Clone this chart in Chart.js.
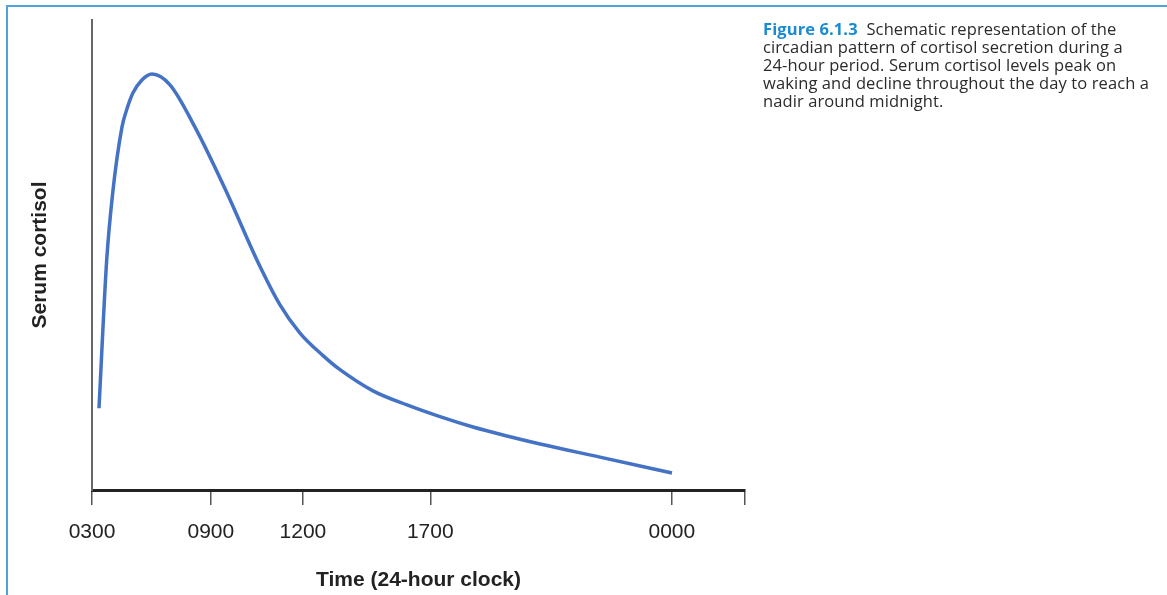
<!DOCTYPE html>
<html>
<head>
<meta charset="utf-8">
<script src="https://cdn.jsdelivr.net/npm/chart.js@4"></script>
<style>
  html, body { margin: 0; padding: 0; background: #fff; }
  #wrap { position: absolute; left: 0; top: 0; width: 1167px; height: 595px; }
  #frame {
    position: absolute; left: 6px; top: 5px; right: 0; bottom: 0;
    border-top: 2px solid #4ea4da; border-left: 2px solid #4ea4da;
  }
  #caption {
    position: absolute; left: 763px; top: 20px;
    font-family: "Open Sans", "Noto Sans", sans-serif;
    font-size: 16.5px; line-height: 18px; color: #2b2b2b;
    letter-spacing: 0.1px;
    white-space: nowrap;
  }
  #caption b { color: #1a8bd0; font-weight: 700; }
</style>
</head>
<body>
<div id="frame"></div>
<div id="wrap"><canvas id="chart"></canvas></div>
<div id="caption"><b>Figure 6.1.3</b>&nbsp; Schematic representation of the<br>circadian pattern of cortisol secretion during a<br>24-hour period. Serum cortisol levels peak on<br>waking and decline throughout the day to reach a<br>nadir around midnight.</div>
<script>
// schematic time axis (0 = 0300, 100 = right end of axis), cortisol in relative units
const timePos = [1.07, 2.25, 3.17, 4.59, 5.31, 6.28, 7.61, 9.19, 11.94, 15.77, 20.67, 25.27, 28.79, 31.85, 35.38, 37.98, 43.03, 48.24, 53.29, 58.35, 63.55, 68.61, 77.79, 88.82];
const cortisol = [17.4, 48.9, 63.2, 77.2, 80.9, 84.5, 87.2, 88.5, 86.2, 77.2, 63.2, 48.9, 39.4, 33.4, 28.6, 25.6, 21.1, 18.1, 15.6, 13.4, 11.5, 9.8, 7.0, 3.6];

const tickPos = [0, 18.2, 32.3, 51.8, 88.8, 100];
const tickLabels = ["0300", "0900", "1200", "1700", "0000", ""];

const ctx = document.getElementById("chart");

new Chart(ctx, {
    type: "line",
    data: {
        datasets: [
            {
                data: timePos.map((x, i) => ({ x, y: cortisol[i] })),
                borderColor: "#4472c4",
                borderWidth: 3.5,
                pointRadius: 0,
                cubicInterpolationMode: "monotone",
                clip: false
            }
        ]
    },
    options: {
        responsive: true,
        maintainAspectRatio: false,
        animation: false,
        layout: {
            padding: { left: 0, right: 422, top: 20, bottom: 0 }
        },
        plugins: {
            legend: { display: false },
            tooltip: { enabled: false }
        },
        scales: {
            x: {
                type: "linear",
                min: 0,
                max: 100,
                afterFit: (scale) => { scale.height = 105; },
                afterBuildTicks: (scale) => {
                    scale.ticks = tickPos.map(v => ({ value: v }));
                },
                grid: {
                    drawOnChartArea: false,
                    tickLength: 15,
                    color: "#555",
                    lineWidth: 1.5
                },
                border: { display: true, color: "#222", width: 3 },
                ticks: {
                    autoSkip: false,
                    maxRotation: 0,
                    padding: 15,
                    color: "#222",
                    font: { family: "'Liberation Sans', Arial, sans-serif", size: 21 },
                    callback: (v, i) => tickLabels[i]
                },
                title: {
                    display: true,
                    text: "Time (24-hour clock)",
                    color: "#222",
                    padding: { top: 0, bottom: 2 },
                    font: { family: "'Liberation Sans', Arial, sans-serif", size: 21, weight: "bold" }
                }
            },
            y: {
                min: 0,
                max: 100,
                afterFit: (scale) => { scale.width = 92; },
                grid: { display: false },
                border: { display: true, color: "#666", width: 2 },
                ticks: { display: false },
                title: {
                    display: true,
                    text: "Serum cortisol",
                    color: "#222",
                    padding: { top: 28, bottom: 0 },
                    font: { family: "'Liberation Sans', Arial, sans-serif", size: 21, weight: "bold" }
                }
            }
        }
    }
});
</script>
</body>
</html>
